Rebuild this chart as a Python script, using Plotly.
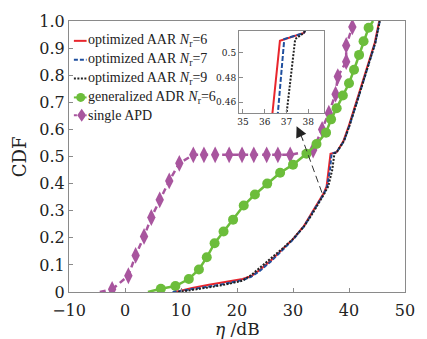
import plotly.graph_objects as go

# ---------------- data ----------------
red_x = [9.0, 12, 15, 18, 21, 22.5, 24, 26, 28, 30, 32, 33.5, 34.7, 35.5, 36.0, 36.35, 36.7, 37.8, 39.0, 40.0, 41.3, 42.2, 43.1, 44.0, 44.6, 45.4]
red_y = [0, 0.015, 0.027, 0.038, 0.048, 0.058, 0.08, 0.115, 0.155, 0.195, 0.245, 0.295, 0.337, 0.365, 0.39, 0.45, 0.5096, 0.516, 0.557, 0.615, 0.70, 0.76, 0.82, 0.88, 0.92, 1.0]

blue_x = [8.5, 12, 15, 18, 21, 22.5, 24, 26, 28, 30, 32, 33.5, 34.7, 35.5, 36.1, 36.6, 36.9, 37.8, 39.1, 40.1, 41.4, 42.3, 43.2, 44.1, 44.7, 45.5]
blue_y = [0, 0.01, 0.02, 0.031, 0.044, 0.056, 0.077, 0.112, 0.152, 0.193, 0.243, 0.293, 0.335, 0.362, 0.39, 0.45, 0.511, 0.516, 0.557, 0.615, 0.70, 0.76, 0.82, 0.88, 0.92, 1.0]

black_x = [9.5, 12, 15, 18, 21, 22.5, 24, 26, 28, 30, 32, 33.5, 34.7, 35.5, 36.3, 37.0, 37.4, 37.8, 39.1, 40.1, 41.4, 42.3, 43.2, 44.1, 44.7, 45.5]
black_y = [0, 0.007, 0.017, 0.028, 0.042, 0.062, 0.088, 0.12, 0.158, 0.196, 0.243, 0.29, 0.33, 0.36, 0.39, 0.45, 0.511, 0.516, 0.557, 0.615, 0.70, 0.76, 0.82, 0.88, 0.92, 1.0]

adr_x = [6.4, 9.0, 11.4, 13.2, 14.6, 16.0, 17.6, 19.3, 21.2, 23.2, 25.4, 27.7, 30.0, 32.4, 34.2, 35.9, 36.8, 37.8, 38.9, 40.0, 40.9, 41.8, 42.6, 43.5]
adr_y = [0.012, 0.022, 0.048, 0.083, 0.128, 0.18, 0.223, 0.267, 0.319, 0.36, 0.40, 0.44, 0.47, 0.51, 0.546, 0.588, 0.637, 0.678, 0.725, 0.77, 0.82, 0.875, 0.925, 0.975]
adr_start = [4.1, 0.0]
adr_end = [44.3, 1.0]

apd_x = [-2.3, 0.6, 1.9, 3.4, 4.7, 6.2, 7.9, 9.7, 12.2, 14.1, 16.1, 18.6, 20.9, 23.0, 25.3, 27.3, 29.5, 33.6, 35.2, 36.4, 37.6, 38.0, 39.5, 39.5, 40.6]
apd_y = [0.01, 0.06, 0.135, 0.205, 0.275, 0.34, 0.41, 0.475, 0.506, 0.506, 0.506, 0.506, 0.506, 0.506, 0.506, 0.506, 0.506, 0.524, 0.60, 0.66, 0.73, 0.795, 0.85, 0.91, 0.978]
apd_start = [-4.5, 0.0]

x_ticks = [-10, 0, 10, 20, 30, 40, 50]
y_ticks = [0, 0.1, 0.2, 0.3, 0.4, 0.5, 0.6, 0.7, 0.8, 0.9, 1.0]
y_labels = ["0", "0.1", "0.2", "0.3", "0.4", "0.5", "0.6", "0.7", "0.8", "0.9", "1.0"]
inset_x_ticks = [35, 36, 37, 38]
inset_y_ticks = [0.46, 0.48, 0.5]
inset_y_labels = ["0.46", "0.48", "0.5"]

names = ["optimized AAR <i>N</i><sub>r</sub>=6",
         "optimized AAR <i>N</i><sub>r</sub>=7",
         "optimized AAR <i>N</i><sub>r</sub>=9",
         "generalized ADR <i>N</i><sub>r</sub>=6",
         "single APD"]
x_title = "<i>η</i> /dB"
y_title = "CDF"

RED = "#e8262d"
BLUE = "#1f4f9e"
BLACK = "#222222"
GREEN = "#6cbd3b"
PURPLE = "#a8559e"
FRAME = "#8a8a8a"
FONT = "DejaVu Serif"
LFONT = "Liberation Serif"

# ---------------- geometry (pixels) ----------------
W, H = 427, 339
L, R, T, B = 69, 14, 19, 47
PW, PH = W - L - R, H - T - B


def pxx(px):
    return (px - L) / PW


def pxy(py):
    return (H - B - py) / PH


fig = go.Figure()

# main traces
fig.add_trace(go.Scatter(x=[apd_start[0], apd_x[0]], y=[apd_start[1], apd_y[0]], mode="lines",
                         line=dict(color=PURPLE, width=2.5, dash="6px,4px"), showlegend=False))
fig.add_trace(go.Scatter(x=apd_x, y=apd_y, mode="lines+markers", name=names[4],
                         line=dict(color=PURPLE, width=2.5, dash="6px,4px"),
                         marker=dict(symbol="diamond-tall", size=12, color=PURPLE), showlegend=False))
fig.add_trace(go.Scatter(x=[adr_start[0]] + adr_x + [adr_end[0]], y=[adr_start[1]] + adr_y + [adr_end[1]],
                         mode="lines", line=dict(color=GREEN, width=2.5), showlegend=False))
fig.add_trace(go.Scatter(x=adr_x, y=adr_y, mode="markers", name=names[3],
                         marker=dict(symbol="circle", size=10, color=GREEN), showlegend=False))
fig.add_trace(go.Scatter(x=red_x, y=red_y, mode="lines", name=names[0],
                         line=dict(color=RED, width=2), showlegend=False))
fig.add_trace(go.Scatter(x=blue_x, y=blue_y, mode="lines", name=names[1],
                         line=dict(color=BLUE, width=2, dash="4px,2px"), showlegend=False))
fig.add_trace(go.Scatter(x=black_x, y=black_y, mode="lines", name=names[2],
                         line=dict(color=BLACK, width=2, dash="2px,1.5px"), showlegend=False))

# inset traces
for xs, ys, col, dash in [(red_x, red_y, RED, "solid"), (blue_x, blue_y, BLUE, "5px,2px"),
                          (black_x, black_y, BLACK, "2px,1.5px")]:
    fig.add_trace(go.Scatter(x=xs, y=ys, mode="lines", xaxis="x2", yaxis="y2",
                             line=dict(color=col, width=2, dash=dash), showlegend=False))

# ---------------- manual legend ----------------
rows = [39, 58, 77, 96, 114]
shapes = []
annotations = []
leg_styles = [(RED, "solid"), (BLUE, "4px,2px"), (BLACK, "2px,1.5px"), (GREEN, "solid"), (PURPLE, "3px,3px")]
for i, (row, (col, dash)) in enumerate(zip(rows, leg_styles)):
    shapes.append(dict(type="line", xref="paper", yref="paper", x0=pxx(74), x1=pxx(87),
                       y0=pxy(row), y1=pxy(row), line=dict(color=col, width=2, dash=dash)))
    annotations.append(dict(xref="paper", yref="paper", x=pxx(86), y=pxy(row), xanchor="left",
                            yanchor="middle", text=names[i], showarrow=False,
                            font=dict(family=LFONT, size=14, color="#222")))
shapes.append(dict(type="circle", xref="paper", yref="paper", xsizemode="pixel", ysizemode="pixel",
                   xanchor=pxx(81), yanchor=pxy(96), x0=-4.5, x1=4.5, y0=-4.5, y1=4.5,
                   fillcolor=GREEN, line=dict(width=0)))
shapes.append(dict(type="path", xref="paper", yref="paper", xsizemode="pixel", ysizemode="pixel",
                   xanchor=pxx(82), yanchor=pxy(114), path="M 0,-6.5 L 4.5,0 L 0,6.5 L -4.5,0 Z",
                   fillcolor=PURPLE, line=dict(width=0)))

# axis titles
annotations.append(dict(xref="paper", yref="paper", x=pxx(241), y=pxy(329), xanchor="center",
                        yanchor="middle", text=x_title, showarrow=False, borderpad=0,
                        font=dict(family=FONT, size=17, color="#222")))
annotations.append(dict(xref="paper", yref="paper", x=pxx(19), y=pxy(156), xanchor="center",
                        yanchor="middle", text=y_title, showarrow=False, textangle=-90,
                        font=dict(family=FONT, size=18, color="#222")))

# dashed arrow pointing to inset
shapes.append(dict(type="line", xref="paper", yref="paper", x0=pxx(328), y0=pxy(192),
                   x1=pxx(308), y1=pxy(138), line=dict(color="#333", width=1, dash="7px,4px")))
annotations.append(dict(xref="paper", yref="paper", x=pxx(302), y=pxy(125), ax=7, ay=15,
                        axref="pixel", ayref="pixel", showarrow=True, arrowhead=2, arrowsize=2.2,
                        arrowwidth=1, arrowcolor="#222", text=""))

axis_common = dict(showline=True, linecolor=FRAME, linewidth=1, mirror=True, ticks="inside",
                   ticklen=4, tickcolor=FRAME, showgrid=False, zeroline=False)

fig.update_layout(
    width=W, height=H,
    margin=dict(l=L, r=R, t=T, b=B, pad=0),
    paper_bgcolor="white", plot_bgcolor="white",
    showlegend=False,
    font=dict(family=FONT, color="#222"),
    xaxis=dict(range=[-10, 50], tickvals=x_ticks, tickfont=dict(size=16, family=FONT),
               ticklabelstandoff=4, domain=[0, 1], **axis_common),
    yaxis=dict(range=[0, 1], tickvals=y_ticks, ticktext=y_labels, tickfont=dict(size=16, family=FONT),
               domain=[0, 1], **axis_common),
    xaxis2=dict(range=[34.82, 38.72], tickvals=inset_x_ticks, domain=[pxx(243), pxx(330)],
                anchor="y2", tickfont=dict(size=9, family=FONT), **axis_common),
    yaxis2=dict(range=[0.451, 0.5176], tickvals=inset_y_ticks, ticktext=inset_y_labels,
                domain=[pxy(112), pxy(29)], anchor="x2", tickfont=dict(size=9, family=FONT),
                **axis_common),
    shapes=shapes,
    annotations=annotations,
)

fig.write_html("out.html", config={"displayModeBar": False},
               post_script="document.body.style.margin='0px';document.body.style.padding='0px';")
